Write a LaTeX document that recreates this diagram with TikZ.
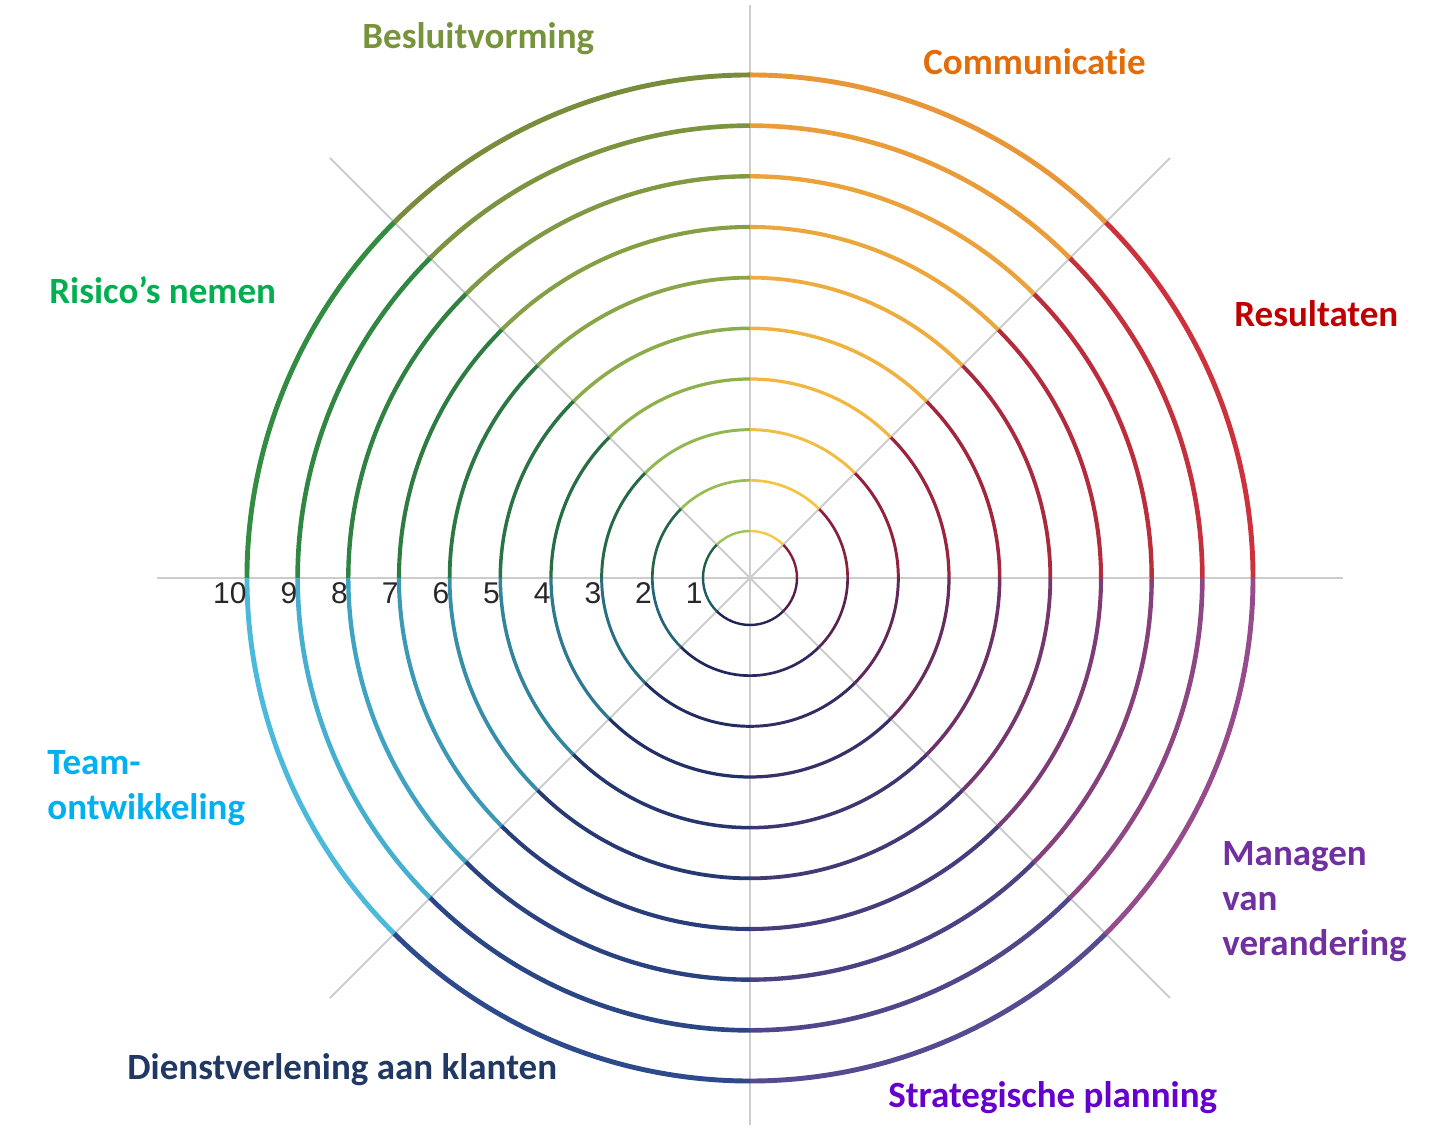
\documentclass[tikz,border=0pt]{standalone}
\usepackage{fontspec}
\setmainfont[Ligatures=NoCommon]{Carlito}
\newfontfamily\numfont{Liberation Sans}
\usepackage{xcolor}
\usepackage{tikz}
\definecolor{wheelgrid}{RGB}{204,204,204}
\definecolor{numgray}{RGB}{40,40,40}
% ring colours, inner ring and outer ring of each segment
\definecolor{resIn}{RGB}{130,30,60}
\definecolor{resOut}{RGB}{205,50,60}
\definecolor{comIn}{RGB}{245,200,70}
\definecolor{comOut}{RGB}{232,150,55}
\definecolor{besIn}{RGB}{155,195,85}
\definecolor{besOut}{RGB}{120,140,60}
\definecolor{risIn}{RGB}{35,95,70}
\definecolor{risOut}{RGB}{50,140,65}
\definecolor{teamIn}{RGB}{30,90,105}
\definecolor{teamOut}{RGB}{75,185,220}
\definecolor{dienIn}{RGB}{30,35,85}
\definecolor{dienOut}{RGB}{45,75,140}
\definecolor{stratIn}{RGB}{45,35,85}
\definecolor{stratOut}{RGB}{85,75,145}
\definecolor{manIn}{RGB}{80,30,75}
\definecolor{manOut}{RGB}{150,75,140}
% label colours
\definecolor{besText}{RGB}{119,147,60}
\definecolor{comText}{RGB}{227,108,9}
\definecolor{resText}{RGB}{192,0,0}
\definecolor{risText}{RGB}{0,176,80}
\definecolor{teamText}{RGB}{0,176,240}
\definecolor{manText}{RGB}{112,48,160}
\definecolor{dienText}{RGB}{31,56,100}
\definecolor{stratText}{RGB}{102,0,204}

\begin{document}
\begin{tikzpicture}[x=0.5pt,y=0.5pt,
  spoke/.style={wheelgrid, line width=1pt},
  lbl/.style={font=\bfseries\fontsize{18.5}{22.5}\selectfont, inner sep=0pt, align=left, anchor=base west},
  numlabel/.style={font=\numfont\fontsize{15}{18}\selectfont, text=numgray, inner sep=0pt, anchor=base east}]
\useasboundingbox (-750,-565) rectangle (682,578);

% Spokes (light grey)
\draw[spoke] (-593,0) -- (593,0);
\draw[spoke] (0,573) -- (0,-547);
\draw[spoke] (-420,420) -- (420,-420);
\draw[spoke] (420,420) -- (-420,-420);

% Rings 1-10, one segment at a time
\foreach \a/\cin/\cout in {0/resIn/resOut, 45/comIn/comOut, 90/besIn/besOut,
    135/risIn/risOut, 180/teamIn/teamOut, 225/dienIn/dienOut,
    270/stratIn/stratOut, 315/manIn/manOut} {
  \foreach \k in {1,...,10} {
    \pgfmathsetmacro{\rad}{47 + (\k-1)*50.67}
    \pgfmathtruncatemacro{\pct}{(\k-1)*100/9}
    \pgfmathsetmacro{\lw}{1.2 + (\k-1)*0.14}
    \draw[color=\cout!\pct!\cin, line width=\lw pt] (\a:\rad) arc[start angle=\a, delta angle=45, radius=\rad];
  }
}

% Scale numbers
\foreach \k in {1,...,10} {
  \pgfmathsetmacro{\rad}{47 + (\k-1)*50.67}
  \node[numlabel] (n\k) at (-\rad,-26) {\k};
}

% Segment labels
\node[lbl, text=besText] (besluit) at (-388,529) {Besluitvorming};
\node[lbl, text=comText] (commu) at (173,503) {Communicatie};
\node[lbl, text=resText] (result) at (484,251) {Resultaten};
\node[lbl, text=risText] (risico) at (-701,274) {Risico’s nemen};
\node[lbl, text=teamText] (team) at (-703,-242) {Team-\\ontwikkeling};
\node[lbl, text=manText] (managen) at (472,-378) {Managen\\van\\verandering};
\node[lbl, text=dienText] (dienst) at (-623,-502) {Dienstverlening aan klanten};
\node[lbl, text=stratText] (strat) at (138,-530) {Strategische planning};
\end{tikzpicture}
\end{document}
